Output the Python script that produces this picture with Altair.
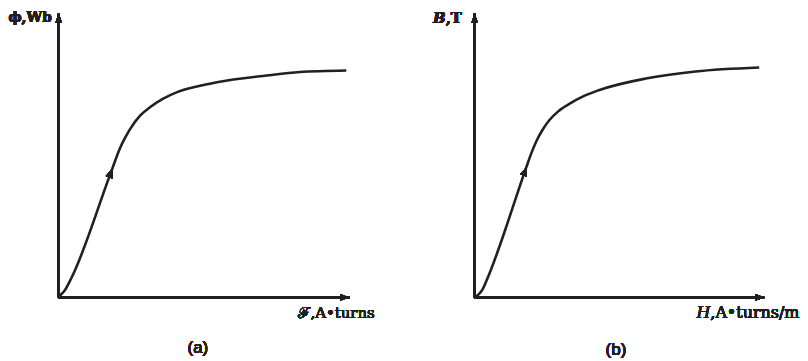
import altair as alt
import pandas as pd

# ---- data (normalized units: each axis arrow has length 100) ----
# Panel (a): flux phi vs. magnetomotive force F
mmf_a = [0, 0.68, 2.05, 4.11, 17.81, 21.23, 22.95, 24.66, 28.08, 31.51, 35.96, 40.75,
         47.6, 54.45, 71.58, 82.88, 98.97]
flux_a = [0, 0.88, 2.46, 6.32, 43.65, 52.98, 56.49, 59.54, 64.21, 67.12, 70.07, 72.39,
          74.39, 75.89, 78.25, 79.47, 80.0]

# Panel (b): flux density B vs. magnetizing intensity H
h_b = [0, 1.37, 2.75, 4.12, 17.87, 19.59, 21.31, 23.37, 25.77, 28.87, 32.99, 37.46,
       42.61, 59.11, 76.29, 98.28]
b_b = [0, 1.05, 2.81, 5.96, 45.96, 50.88, 55.09, 58.95, 62.46, 65.61, 68.42, 70.88,
       72.98, 77.19, 79.65, 81.05]

INK = "#231f20"
SERIF = "DejaVu Serif"
ARROW = "M0,0L-0.75,2L0.75,2Z"


def panel(xs, ys, xdom, ydom, arrow_at, arrow_angle, labels, caption):
    df = pd.DataFrame({"x": xs, "y": ys})
    xsc = alt.Scale(domain=xdom, nice=False, zero=False)
    ysc = alt.Scale(domain=ydom, nice=False, zero=False)

    base = alt.Chart(df)
    curve = base.mark_line(color=INK, strokeWidth=2.6, interpolate="monotone").encode(
        x=alt.X("x:Q", scale=xsc, axis=None),
        y=alt.Y("y:Q", scale=ysc, axis=None),
    )
    xaxis = base.mark_rule(color=INK, strokeWidth=2).encode(
        x=alt.datum(0), x2=alt.datum(100), y=alt.datum(0)
    )
    yaxis = base.mark_rule(color=INK, strokeWidth=2).encode(
        x=alt.datum(0), y=alt.datum(0), y2=alt.datum(100)
    )
    xhead = base.mark_point(shape=ARROW, filled=True, color=INK, size=81, opacity=1,
                            angle=90).encode(x=alt.datum(100), y=alt.datum(0))
    yhead = base.mark_point(shape=ARROW, filled=True, color=INK, size=81, opacity=1,
                            angle=0).encode(x=alt.datum(0), y=alt.datum(100))
    chead = base.mark_point(shape=ARROW, filled=True, color=INK, size=90, opacity=1,
                            angle=arrow_angle).encode(
        x=alt.datum(arrow_at[0]), y=alt.datum(arrow_at[1]))

    layers = [curve, xaxis, yaxis, xhead, yhead, chead]
    for (tx, ty, txt, align, baseline, weight, style, size) in labels:
        layers.append(
            base.mark_text(align=align, baseline=baseline, font=SERIF, fontSize=size,
                           fontWeight=weight, fontStyle=style, color=INK).encode(
                x=alt.datum(tx), y=alt.datum(ty), text=alt.value(txt))
        )
    layers.append(
        base.mark_text(align="center", baseline="middle", font="Liberation Sans",
                       fontSize=17, fontWeight="normal", color=INK).encode(
            x=alt.datum(caption[0]), y=alt.datum(caption[1]), text=alt.value(caption[2]))
    )
    return alt.layer(*layers).properties(width=396, height=345)


left = panel(
    mmf_a, flux_a,
    [-17.12, 118.49], [-19.30, 101.75],
    (18.49, 45.5), 21,
    [
        (-2.4, 98.6, "ϕ,Wb", "right", "middle", "bold", "normal", 14),
        (82.5, -7.4, "ℱ,A•turns", "left", "alphabetic", "normal", "normal", 15),
    ],
    (47.9, -17.8, "(a)"),
)

right = panel(
    h_b, b_b,
    [-24.74, 111.34], [-19.30, 101.75],
    (18.04, 46.14), 20,
    [
        (-10.0, 98.6, "B", "right", "middle", "bold", "italic", 15),
        (-10.0, 98.6, ",T", "left", "middle", "bold", "normal", 15),
        (81.4, -7.4, "H", "right", "alphabetic", "normal", "italic", 16),
        (81.4, -7.4, ",A•turns/m", "left", "alphabetic", "normal", "normal", 16),
    ],
    (48.8, -18.4, "(b)"),
)

chart = (
    alt.hconcat(left, right, spacing=0, bounds="flush")
    .properties(padding=0)
    .configure_view(stroke=None)
)

chart.save("out.html", embed_options={"renderer": "svg", "actions": False})
